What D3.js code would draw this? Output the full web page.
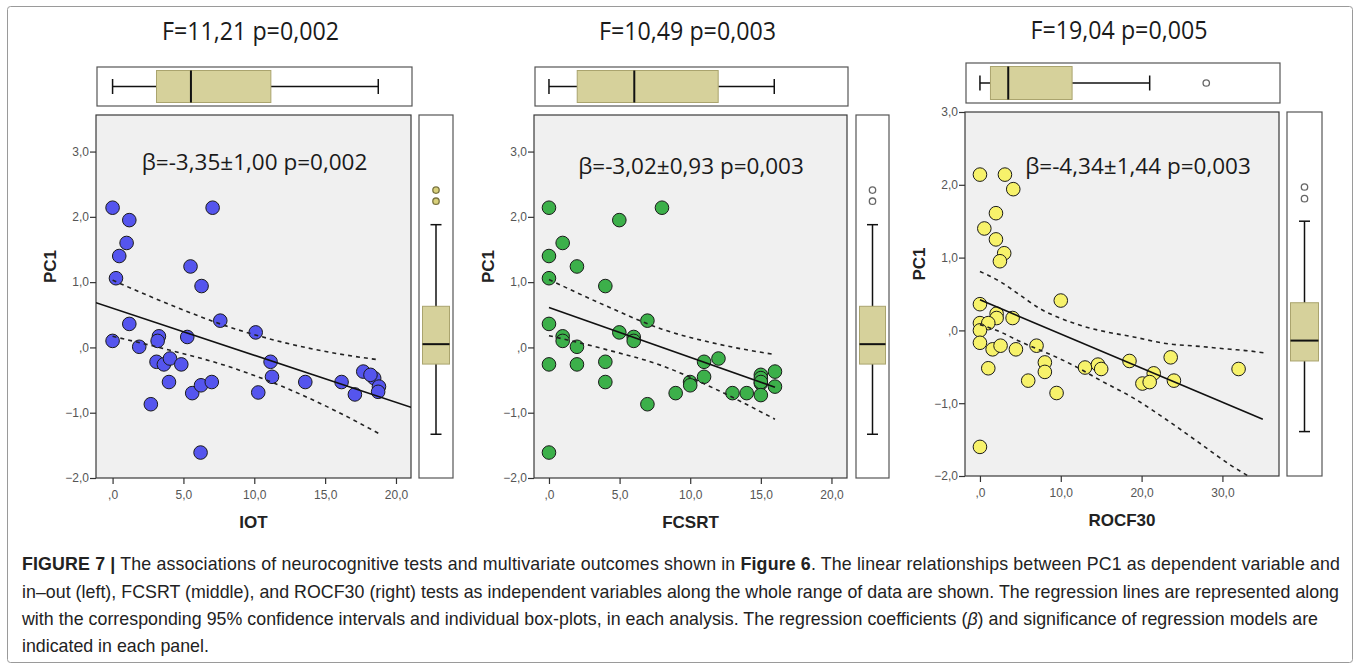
<!DOCTYPE html>
<html>
<head>
<meta charset="utf-8">
<script src="https://cdn.jsdelivr.net/npm/d3@7/dist/d3.min.js"></script>
<style>
  body { margin: 0; background: #fff; }
  svg { display: block; }
</style>
</head>
<body>
<svg id="fig" width="1360" height="670"></svg>
<script>
// ---- data ----
var iotX = [0, 1.18, 0.99, 0.47, 0.24, 7.06, 5.5, 6.28, 7.6, 10.1, 1.18, 0, 1.88, 3.27, 3.18, 5.27, 3.1, 3.62, 4.05, 4.85,
            3.98, 5.62, 6.24, 7.0, 2.7, 6.21, 10.28, 11.15, 11.25, 13.6, 16.16, 17.1, 17.69, 18.46, 18.8, 18.74, 18.2];
var iotY = [2.14, 1.95, 1.60, 1.40, 1.06, 2.14, 1.24, 0.94, 0.41, 0.23, 0.36, 0.10, 0.01, 0.17, 0.10, 0.16, -0.22, -0.26, -0.17, -0.26,
            -0.53, -0.70, -0.58, -0.53, -0.87, -1.61, -0.69, -0.22, -0.45, -0.53, -0.53, -0.72, -0.37, -0.47, -0.60, -0.68, -0.42];

var fcsrtX = [0, 0, 0, 0, 0, 0, 0.97, 0.97, 0.97, 1.98, 1.98, 1.98, 3.99, 3.99, 3.99, 4.98, 4.98, 6.0, 6.0, 6.97,
              6.97, 8.0, 8.97, 9.99, 10, 10.98, 10.98, 12.0, 12.99, 14.0, 15, 15, 15, 15, 15, 16, 16];
var fcsrtY = [2.14, 1.40, 1.06, 0.36, -0.26, -1.61, 1.60, 0.17, 0.10, 1.24, 0.01, -0.26, 0.94, -0.22, -0.53, 1.95, 0.23, 0.16, 0.10, 0.41,
              -0.87, 2.14, -0.70, -0.53, -0.58, -0.22, -0.45, -0.17, -0.70, -0.70, -0.42, -0.47, -0.55, -0.53, -0.73, -0.37, -0.60];

var rocfX = [0, 3.09, 4.12, 1.98, 0.54, 1.98, 3.0, 2.47, 0, 10.0, 2.06, 2.06, 4.04, 0, 1.03, 0, 0, 1.57, 2.55, 4.45,
             7.0, 1.03, 8.03, 8.03, 5.97, 9.48, 0, 13.0, 14.6, 15.0, 18.5, 21.5, 20.1, 21.0, 23.6, 24.0, 32.0];
var rocfY = [2.14, 2.14, 1.94, 1.61, 1.40, 1.25, 1.06, 0.95, 0.36, 0.41, 0.23, 0.17, 0.17, 0.10, 0.10, 0.0, -0.17, -0.26, -0.21, -0.26,
             -0.21, -0.52, -0.44, -0.57, -0.69, -0.86, -1.60, -0.51, -0.47, -0.53, -0.42, -0.59, -0.73, -0.71, -0.37, -0.69, -0.53];

// regression lines [x, y] and 95% CI bands [x, upper, lower]
var iotFit = [[-1.17, 0.684], [21.06, -0.916]];
var iotCI = [[0, 1.03, 0.17], [4, 0.66, -0.04], [8, 0.33, -0.28], [12, 0.08, -0.60], [16, -0.10, -1.00], [18.8, -0.19, -1.32]];
var fcsrtFit = [[0, 0.61], [16, -0.61]];
var fcsrtCI = [[0, 1.04, 0.18], [4, 0.64, -0.03], [8, 0.28, -0.28], [12, 0.05, -0.66], [16, -0.11, -1.10]];
var rocfFit = [[0, 0.42], [35, -1.22]];
var rocfCI = [[0, 0.81, 0.08], [2.5, 0.67, -0.02], [4.9, 0.49, -0.15], [7.4, 0.30, -0.27], [9.9, 0.17, -0.39], [12.4, 0.07, -0.53],
              [14.8, 0.0, -0.68], [19, -0.09, -0.93], [23, -0.18, -1.22], [27.2, -0.22, -1.55], [31, -0.26, -1.85], [33.2, -0.28, -2.0], [35.2, -0.31, null]];

// box plots: [whiskerLow, q1, median, q3, whiskerHigh], outliers
var iotBox = [0, 3.1, 5.53, 11.17, 18.75], iotOut = [];
var fcsrtBox = [0, 2.0, 6.04, 11.98, 15.95], fcsrtOut = [];
var rocfBox = [0, 1.3, 3.5, 11.4, 21.0], rocfOut = [28.0];
var pc1Box12 = [-1.33, -0.255, 0.05, 0.63, 1.88], pc1Out12 = [2.41, 2.24];
var pc1Box3 = [-1.39, -0.42, -0.14, 0.38, 1.50], pc1Out3 = [1.97, 1.81];

var titles = ["F=11,21 p=0,002", "F=10,49 p=0,003", "F=19,04 p=0,005"];
var betas = ["β=-3,35±1,00 p=0,002", "β=-3,02±0,93 p=0,003", "β=-4,34±1,44 p=0,003"];
var xLabels = ["IOT", "FCSRT", "ROCF30"];
var yTicks12 = [-2, -1, 0, 1, 2, 3];
var xTicks12 = [0, 5, 10, 15, 20];
var xTicks3 = [0, 10, 20, 30];

// ---- layout ----
var panels = [
  { x: iotX, y: iotY, fit: iotFit, ci: iotCI, box: iotBox, out: iotOut, pbox: pc1Box12, pout: pc1Out12,
    color: "#5555ee", outFill: "#d8d07a", outStroke: "#7a7440",
    left: 96, right: 411, top: 115, bottom: 478, xDom: [-1.17, 21.06], yDom: [-2, 3.56], xTicks: xTicks12,
    boxTop: 67, boxBottom: 106, rLeft: 419, rRight: 453, titleY: 40, betaY: 170, betaX: 254.5 },
  { x: fcsrtX, y: fcsrtY, fit: fcsrtFit, ci: fcsrtCI, box: fcsrtBox, out: fcsrtOut, pbox: pc1Box12, pout: pc1Out12,
    color: "#3cb04a", outFill: "#fff", outStroke: "#666",
    left: 534, right: 847, top: 115, bottom: 478, xDom: [-1.06, 21.1], yDom: [-2, 3.56], xTicks: xTicks12,
    boxTop: 67, boxBottom: 106, rLeft: 856, rRight: 889, titleY: 40, betaY: 174, betaX: 691 },
  { x: rocfX, y: rocfY, fit: rocfFit, ci: rocfCI, box: rocfBox, out: rocfOut, pbox: pc1Box3, pout: pc1Out3,
    color: "#f7f26b", outFill: "#fff", outStroke: "#666",
    left: 965, right: 1279, top: 112, bottom: 476, xDom: [-1.85, 37.0], yDom: [-2, 3.0], xTicks: xTicks3,
    boxTop: 63, boxBottom: 103, rLeft: 1287, rRight: 1322, titleY: 39, betaY: 174, betaX: 1138 }
];

var svg = d3.select("#fig");

// figure frame
svg.append("rect").attr("x", 7.5).attr("y", 6.5).attr("width", 1345).attr("height", 656)
  .attr("rx", 3).attr("fill", "none").attr("stroke", "#9a9a9a");

function fmt(d) {
  if (d === 0) return ",0";
  return d3.format(".1f")(d).replace(".", ",");
}

panels.forEach(function (p, i) {
  var x = d3.scaleLinear().domain(p.xDom).range([p.left, p.right]);
  var y = d3.scaleLinear().domain(p.yDom).range([p.bottom, p.top]);
  var g = svg.append("g");

  var clipId = "clip" + i;
  svg.append("clipPath").attr("id", clipId).append("rect")
    .attr("x", p.left).attr("y", p.top).attr("width", p.right - p.left).attr("height", p.bottom - p.top);

  // plot background
  g.append("rect").attr("x", p.left).attr("y", p.top)
    .attr("width", p.right - p.left).attr("height", p.bottom - p.top)
    .attr("fill", "#f0f0f0").attr("stroke", "#3a3a3a").attr("stroke-width", 1.2);

  // axes
  var ya = g.append("g").attr("transform", "translate(" + p.left + ",0)")
    .call(d3.axisLeft(y).tickValues(yTicks12).tickFormat(fmt).tickSize(6).tickPadding(1));
  var xa = g.append("g").attr("transform", "translate(0," + p.bottom + ")")
    .call(d3.axisBottom(x).tickValues(p.xTicks).tickFormat(fmt).tickSize(6).tickPadding(6));
  [ya, xa].forEach(function (a) {
    a.select(".domain").remove();
    a.selectAll("line").attr("stroke", "#333").attr("stroke-width", 1.2);
    a.selectAll("text").attr("fill", "#555").style("font-family", "Liberation Sans, Arial, sans-serif").style("font-size", "12px");
  });

  // axis titles
  g.append("text").attr("transform", "translate(" + (p.left - 40) + "," + ((p.top + p.bottom) / 2 - 30) + ") rotate(-90)")
    .attr("text-anchor", "middle").style("font-family", "Liberation Sans, Arial, sans-serif")
    .style("font-weight", "bold").style("font-size", "17px").attr("fill", "#222").text("PC1");
  g.append("text").attr("x", (p.left + p.right) / 2).attr("y", p.bottom + 50)
    .attr("text-anchor", "middle").style("font-family", "Liberation Sans, Arial, sans-serif")
    .style("font-weight", "bold").style("font-size", "17px").attr("fill", "#222").text(xLabels[i]);

  // points
  var pts = p.x.map(function (v, k) { return [v, p.y[k]]; });
  var cg = g.append("g").attr("clip-path", "url(#" + clipId + ")");
  cg.selectAll("circle.pt").data(pts).enter().append("circle").attr("class", "pt")
    .attr("cx", function (d) { return x(d[0]); })
    .attr("cy", function (d) { return y(d[1]); })
    .attr("r", 6.8)
    .attr("fill", p.color).attr("stroke", "#1a1a1a").attr("stroke-width", 1);

  // regression line and CI
  var line = d3.line().x(function (d) { return x(d[0]); }).y(function (d) { return y(d[1]); });
  cg.append("path").attr("d", line(p.fit)).attr("fill", "none").attr("stroke", "#111").attr("stroke-width", 1.6);
  var ciLine = d3.line().curve(d3.curveMonotoneX)
    .defined(function (d) { return d[1] !== null; })
    .x(function (d) { return x(d[0]); }).y(function (d) { return y(d[1]); });
  var upper = p.ci.map(function (d) { return [d[0], d[1]]; });
  var lower = p.ci.map(function (d) { return [d[0], d[2]]; });
  [upper, lower].forEach(function (s) {
    cg.append("path").attr("d", ciLine(s)).attr("fill", "none").attr("stroke", "#222")
      .attr("stroke-width", 1.6).attr("stroke-dasharray", "4,4");
  });

  // beta label
  g.append("text").attr("x", p.betaX).attr("y", p.betaY)
    .attr("text-anchor", "middle").style("font-family", "Open Sans, sans-serif").style("font-size", "22.5px")
    .attr("fill", "#1a1a1a").text(betas[i]);

  // title
  g.append("text").attr("x", (p.left + p.right) / 2 - 3).attr("y", p.titleY)
    .attr("text-anchor", "middle").style("font-family", "Open Sans, sans-serif").style("font-size", "25px")
    .attr("textLength", 177).attr("lengthAdjust", "spacingAndGlyphs")
    .attr("fill", "#1a1a1a").text(titles[i]);

  // top box plot (x variable)
  g.append("rect").attr("x", p.left + 1).attr("y", p.boxTop).attr("width", p.right - p.left).attr("height", p.boxBottom - p.boxTop)
    .attr("fill", "#fff").attr("stroke", "#555").attr("stroke-width", 1.2);
  var bm = (p.boxTop + p.boxBottom) / 2;
  var b = p.box;
  g.append("line").attr("x1", x(b[0])).attr("x2", x(b[1])).attr("y1", bm).attr("y2", bm).attr("stroke", "#111").attr("stroke-width", 1.5);
  g.append("line").attr("x1", x(b[3])).attr("x2", x(b[4])).attr("y1", bm).attr("y2", bm).attr("stroke", "#111").attr("stroke-width", 1.5);
  [b[0], b[4]].forEach(function (v) {
    g.append("line").attr("x1", x(v)).attr("x2", x(v)).attr("y1", bm - 7.5).attr("y2", bm + 7.5).attr("stroke", "#111").attr("stroke-width", 1.5);
  });
  g.append("rect").attr("x", x(b[1])).attr("y", p.boxTop + 3.5).attr("width", x(b[3]) - x(b[1])).attr("height", p.boxBottom - p.boxTop - 7)
    .attr("fill", "#d6d19b").attr("stroke", "#aaa46e").attr("stroke-width", 1);
  g.append("line").attr("x1", x(b[2])).attr("x2", x(b[2])).attr("y1", p.boxTop + 3.5).attr("y2", p.boxBottom - 3.5).attr("stroke", "#111").attr("stroke-width", 2);
  g.selectAll("circle.tout").data(p.out).enter().append("circle").attr("class", "tout")
    .attr("cx", function (d) { return x(d); }).attr("cy", bm).attr("r", 3.2)
    .attr("fill", "#fff").attr("stroke", "#666").attr("stroke-width", 1.3);

  // right box plot (PC1)
  g.append("rect").attr("x", p.rLeft).attr("y", p.top).attr("width", p.rRight - p.rLeft).attr("height", p.bottom - p.top)
    .attr("fill", "#fff").attr("stroke", "#555").attr("stroke-width", 1.2);
  var rm = (p.rLeft + p.rRight) / 2;
  var q = p.pbox;
  g.append("line").attr("x1", rm).attr("x2", rm).attr("y1", y(q[0])).attr("y2", y(q[4])).attr("stroke", "#111").attr("stroke-width", 1.5);
  [q[0], q[4]].forEach(function (v) {
    g.append("line").attr("x1", rm - 5.5).attr("x2", rm + 5.5).attr("y1", y(v)).attr("y2", y(v)).attr("stroke", "#111").attr("stroke-width", 1.5);
  });
  g.append("rect").attr("x", p.rLeft + 3.5).attr("y", y(q[3])).attr("width", p.rRight - p.rLeft - 7).attr("height", y(q[1]) - y(q[3]))
    .attr("fill", "#d6d19b").attr("stroke", "#aaa46e").attr("stroke-width", 1);
  g.append("line").attr("x1", p.rLeft + 3.5).attr("x2", p.rRight - 3.5).attr("y1", y(q[2])).attr("y2", y(q[2])).attr("stroke", "#111").attr("stroke-width", 2);
  g.selectAll("circle.rout").data(p.pout).enter().append("circle").attr("class", "rout")
    .attr("cx", rm).attr("cy", function (d) { return y(d); }).attr("r", 3.2)
    .attr("fill", p.outFill).attr("stroke", p.outStroke).attr("stroke-width", 1.3);
});

// ---- caption ----
var capFont = "Liberation Sans, Arial, sans-serif";
var caption = [
  [["FIGURE 7 |", "b"], [" The associations of neurocognitive tests and multivariate outcomes shown in ", ""], ["Figure 6", "b"],
   [". The linear relationships between PC1 as dependent variable and", ""]],
  [["in\u2013out (left), FCSRT (middle), and ROCF30 (right) tests as independent variables along the whole range of data are shown. The regression lines are represented along", ""]],
  [["with the corresponding 95% confidence intervals and individual box-plots, in each analysis. The regression coefficients (", ""], ["\u03b2", "i"],
   [") and significance of regression models are", ""]],
  [["indicated in each panel.", ""]]
];
var capY = [570, 598, 625, 652];
var capWidth = [1318, 1317, 1296, null];
caption.forEach(function (parts, li) {
  var t = svg.append("text").attr("x", 22).attr("y", capY[li])
    .style("font-family", capFont).style("font-size", "17.8px").attr("fill", "#222");
  if (capWidth[li]) t.attr("textLength", capWidth[li]).attr("lengthAdjust", "spacing");
  parts.forEach(function (pt) {
    t.append("tspan").text(pt[0])
      .style("font-weight", pt[1] === "b" ? "bold" : "normal")
      .style("font-style", pt[1] === "i" ? "italic" : "normal");
  });
});
</script>
</body>
</html>
